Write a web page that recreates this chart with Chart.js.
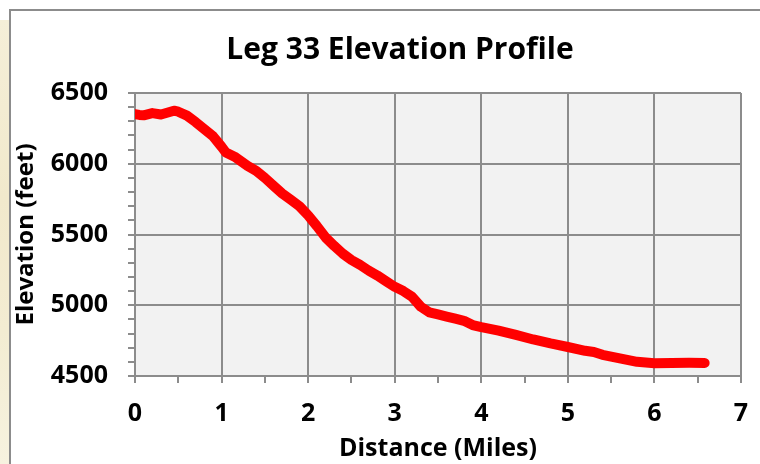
<!DOCTYPE html>
<html>
<head>
<meta charset="utf-8">
<script src="https://cdn.jsdelivr.net/npm/chart.js@4.4.1/dist/chart.umd.min.js"></script>
<style>
  html, body { margin: 0; padding: 0; background: #ffffff; }
  #page { position: relative; width: 760px; height: 464px; overflow: hidden; }
  #backdrop { position: absolute; left: 0; top: 20px; width: 12px; height: 444px;
    background: linear-gradient(#f5efd8, #f1e9cc 40%, #f3ecd2 70%, #f7f2df); }
  #frame { position: absolute; left: 9px; top: 9px; width: 800px; height: 500px;
    border: 2px solid #8c8c8c; background: #ffffff; box-sizing: border-box; }
  #wrap { position: absolute; left: 0; top: 0; width: 760px; height: 464px; }
</style>
</head>
<body>
<div id="page">
  <div id="backdrop"></div>
  <div id="frame"></div>
  <div id="wrap"><canvas id="profileChart" width="760" height="464"></canvas></div>
</div>
<script>
// distance along the leg (miles) and elevation (feet)
var distance  = [0, 0.05, 0.1, 0.2, 0.3, 0.38, 0.45, 0.5, 0.6, 0.7, 0.8, 0.9, 1.0, 1.05, 1.15, 1.3, 1.4, 1.5, 1.6, 1.7, 1.8, 1.9, 2.0,
                 2.1, 2.2, 2.3, 2.4, 2.5, 2.6, 2.7, 2.8, 2.9, 3.0, 3.1, 3.2, 3.3, 3.4, 3.5, 3.6, 3.7, 3.8, 3.9, 4.0,
                 4.2, 4.4, 4.6, 4.8, 5.0, 5.2, 5.3, 5.4, 5.6, 5.8, 6.0, 6.2, 6.4, 6.58];
var elevation = [6350, 6345, 6342, 6358, 6348, 6362, 6375, 6368, 6340, 6295, 6245, 6195, 6120, 6080, 6050, 5985, 5950, 5900, 5845, 5790, 5745, 5700, 5635,
                 5560, 5480, 5420, 5365, 5320, 5285, 5245, 5210, 5170, 5130, 5100, 5060, 4990, 4950, 4935, 4920, 4905, 4890, 4860, 4845,
                 4820, 4790, 4758, 4730, 4705, 4678, 4670, 4650, 4625, 4600, 4590, 4592, 4593, 4592];

var chartTitle = 'Leg 33 Elevation Profile';
var xMin = 0, xMax = 7, xStep = 0.5, xLabelEvery = 1;
var yMin = 4500, yMax = 6500, yStep = 100, yLabelEvery = 500;

var points = [];
for (var i = 0; i < distance.length; i++) {
    points.push({x: distance[i], y: elevation[i]});
}

var gridGray = '#8c8c8c';
var fontFace = '"Open Sans", Lato, sans-serif';

// fill the plot area grey like the original
var plotBackground = {
    id: 'plotBackground',
    beforeDraw: function(chart) {
        var a = chart.chartArea;
        chart.ctx.save();
        chart.ctx.fillStyle = '#f2f2f2';
        chart.ctx.fillRect(a.left, a.top, a.right - a.left, a.bottom - a.top);
        chart.ctx.restore();
    }
};

// the original title sits a bit right of the canvas centre, so draw it here
var chartHeading = {
    id: 'chartHeading',
    afterDraw: function(chart) {
        var ctx = chart.ctx;
        ctx.save();
        ctx.fillStyle = '#000000';
        ctx.font = 'bold 30px ' + fontFace;
        ctx.textAlign = 'center';
        ctx.textBaseline = 'middle';
        ctx.fillText(chartTitle, 400, 50);
        ctx.restore();
    }
};

function isMajor(value, every) {
    return Math.abs(value / every - Math.round(value / every)) < 1e-6;
}

var profileChart = new Chart(document.getElementById("profileChart"), {
    type: 'line',
    data: {
        datasets: [
            {
                label: "Elevation",
                data: points,
                borderColor: '#ff0000',
                backgroundColor: '#ff0000',
                borderWidth: 10,
                borderCapStyle: 'round',
                borderJoinStyle: 'round',
                pointRadius: 0,
                tension: 0
            }
        ]
    },
    options: {
        responsive: false,
        animation: false,
        layout: { padding: { left: 12, right: 19, top: 93, bottom: 0 } },
        plugins: {
            legend: { display: false },
            tooltip: { enabled: false },
            title: { display: false }
        },
        scales: {
            x: {
                type: 'linear',
                min: xMin,
                max: xMax,
                afterFit: function(scale) {
                    scale.height = 88;
                    scale.paddingRight = 0;
                },
                ticks: {
                    stepSize: xStep,
                    autoSkip: false,
                    maxRotation: 0,
                    padding: 16,
                    color: '#000000',
                    font: { family: fontFace, size: 25, weight: 'bold' },
                    callback: function(v) { return isMajor(v, xLabelEvery) ? String(v) : ''; }
                },
                grid: {
                    lineWidth: 2,
                    tickLength: 7,
                    tickColor: gridGray,
                    color: function(ctx) {
                        return ctx.tick && isMajor(ctx.tick.value, xLabelEvery) ? gridGray : 'rgba(0,0,0,0)';
                    }
                },
                border: { color: gridGray, width: 2 },
                title: {
                    display: true,
                    text: 'Distance (Miles)',
                    color: '#000000',
                    font: { family: fontFace, size: 25, weight: 'bold' },
                    padding: { top: 0, bottom: 0 }
                }
            },
            y: {
                type: 'linear',
                min: yMin,
                max: yMax,
                afterFit: function(scale) { scale.width = 123; },
                ticks: {
                    stepSize: yStep,
                    autoSkip: false,
                    padding: 20,
                    color: '#000000',
                    font: { family: fontFace, size: 25, weight: 'bold' },
                    callback: function(v) { return isMajor(v, yLabelEvery) ? String(v) : ''; }
                },
                grid: {
                    lineWidth: 2,
                    tickLength: 7,
                    tickColor: gridGray,
                    color: function(ctx) {
                        return ctx.tick && isMajor(ctx.tick.value, yLabelEvery) ? gridGray : 'rgba(0,0,0,0)';
                    }
                },
                border: { color: gridGray, width: 2 },
                title: {
                    display: true,
                    text: 'Elevation (feet)',
                    color: '#000000',
                    font: { family: fontFace, size: 24, weight: 'bold' },
                    padding: { top: 0, bottom: 0 }
                }
            }
        }
    },
    plugins: [plotBackground, chartHeading]
});
</script>
</body>
</html>
